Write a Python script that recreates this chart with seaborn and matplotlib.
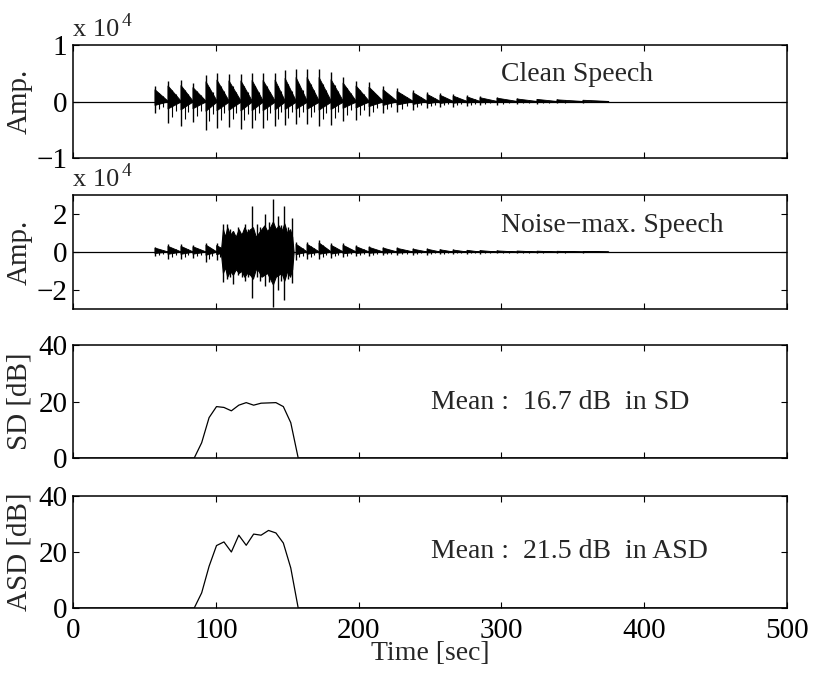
import numpy as np
import pandas as pd
import matplotlib
matplotlib.use("Agg")
import matplotlib.pyplot as plt
import seaborn as sns

# ---------------- data ----------------
# Clean speech: pitch pulses (time, positive peak, negative peak), amplitude in 1e4
clean_t = [57.4, 66.5, 75.6, 84.0, 93.1, 100.8, 109.2, 117.6, 125.4, 133.1, 141.5,
           148.5, 156.2, 163.9, 172.3, 180.7, 189.1, 198.2, 207.3, 217.1, 226.9,
           238.1, 248.0, 257.0, 266.2, 275.9, 285.0, 296.9, 310.9, 324.9, 338.9, 357.1]
clean_up = [0.28, 0.37, 0.38, 0.33, 0.47, 0.51, 0.49, 0.49, 0.50, 0.50, 0.51,
            0.55, 0.57, 0.57, 0.57, 0.52, 0.44, 0.37, 0.34, 0.28, 0.24,
            0.21, 0.17, 0.15, 0.13, 0.11, 0.09, 0.08, 0.06, 0.05, 0.04, 0.03]
clean_lo = [-0.20, -0.38, -0.43, -0.37, -0.50, -0.47, -0.45, -0.48, -0.47, -0.47, -0.43,
            -0.41, -0.40, -0.40, -0.44, -0.41, -0.35, -0.33, -0.26, -0.20, -0.18,
            -0.15, -0.12, -0.10, -0.09, -0.08, -0.07, -0.06, -0.05, -0.04, -0.03, -0.02]

# Noise-max speech: voiced pulses outside the noise burst
noisy_t = [57.4, 66.5, 75.6, 84.0, 93.1, 100.6,
           156.2, 163.9, 172.3, 180.7, 189.1, 198.2, 207.3, 217.1, 226.9, 238.1,
           248.0, 257.0, 266.2, 275.9, 285.0, 296.9, 310.9, 324.9, 338.9, 357.1]
noisy_up = [0.28, 0.40, 0.40, 0.37, 0.49, 0.46,
            0.55, 0.55, 0.64, 0.48, 0.48, 0.38, 0.33, 0.28, 0.26, 0.20,
            0.20, 0.16, 0.14, 0.12, 0.10, 0.08, 0.07, 0.06, 0.05, 0.04]
noisy_lo = [-0.23, -0.35, -0.35, -0.33, -0.50, -0.40,
            -0.41, -0.35, -0.35, -0.32, -0.28, -0.23, -0.20, -0.18, -0.18, -0.15,
            -0.15, -0.12, -0.10, -0.09, -0.08, -0.07, -0.06, -0.05, -0.04, -0.03]

# Noise burst: large spikes
burst_t = [104.8, 107.6, 110.0, 112.3, 115.3, 118.0, 120.4, 122.5, 125.1, 128.6,
           131.0, 134.5, 137.0, 139.8, 143.3, 145.5, 148.0, 150.5, 153.1]
burst_up = [1.5, 1.5, 1.2, 1.1, 1.3, 1.0, 1.5, 1.2, 2.4, 1.5,
            1.3, 2.0, 1.6, 2.8, 1.9, 1.4, 2.4, 1.3, 1.8]
burst_lo = [-1.56, -1.4, -1.3, -1.7, -1.2, -1.3, -1.5, -1.3, -2.44, -1.3,
            -1.5, -1.8, -1.6, -2.9, -2.0, -1.5, -2.5, -1.4, -1.65]
# Noise burst: dense body envelope
env_t = [103.5, 105, 106.5, 108, 110, 112, 114, 116, 118, 120, 122, 124, 126, 128,
         130, 132, 134, 136, 138, 140, 142, 144, 146, 148, 150, 152, 153.5, 154.5]
env_up = [0, 1.2, 0.8, 1.3, 0.9, 1.1, 0.8, 1.2, 0.9, 1.3, 1.0, 1.2, 1.3, 0.8,
          1.0, 1.2, 1.4, 1.1, 1.3, 1.6, 1.2, 1.4, 1.1, 1.5, 1.0, 1.2, 0.8, 0]
env_lo = [0, -1.1, -0.8, -1.3, -1.0, -1.2, -0.9, -1.1, -1.0, -1.3, -1.1, -1.2, -1.4, -0.9,
          -1.0, -1.3, -1.2, -1.1, -1.4, -1.7, -1.3, -1.2, -1.1, -1.5, -1.0, -1.3, -0.9, 0]

# Spectral distortion curves
sd_t = [0, 84.9, 90.1, 95.3, 100.5, 105.7, 110.9, 116.1, 121.3, 126.5, 131.7,
        136.9, 142.1, 147.3, 152.5, 157.7, 500]
sd_val = [0, 0, 5.4, 14.3, 18.2, 17.9, 16.7, 18.7, 19.6, 18.7, 19.4,
          19.5, 19.6, 18.2, 12.5, 0, 0]
asd_t = sd_t
asd_val = [0, 0, 5.4, 14.9, 22.3, 23.6, 20.0, 26.0, 22.4, 26.4, 26.0,
           27.7, 26.8, 23.2, 14.3, 0, 0]

x_ticks = [0, 100, 200, 300, 400, 500]

# ---------------- style ----------------
sns.set_style("ticks")
plt.rcParams['font.family'] = ['Liberation Serif', 'DejaVu Serif']
plt.rcParams['axes.unicode_minus'] = True

FS = 21
fig = plt.figure(figsize=(8.14, 6.75), dpi=100)
W, H = 814, 675
def add_ax(top, bottom):
    return fig.add_axes([73 / W, 1 - bottom / H, 714 / W, (bottom - top) / H])

ax1 = add_ax(45, 158)
ax2 = add_ax(195, 309)
ax3 = add_ax(345, 458)
ax4 = add_ax(496, 608)


def draw_pulses(ax, t, up, lo):
    n = len(t)
    for i in range(n):
        tn = t[i + 1] if i + 1 < n and t[i + 1] - t[i] < 25 else t[i] + (t[i] - t[i - 1])
        tn = min(tn, t[i] + 20)
        poly_x = [t[i], t[i], tn, tn, t[i]]
        poly_y = [0.35 * lo[i], 0.75 * up[i], 0.03 * up[i], -0.03 * up[i], 0.35 * lo[i]]
        ax.fill(poly_x, poly_y, color='k', lw=0.6)
        ax.vlines(t[i], lo[i], up[i], color='k', lw=1.0)
        ts = t[i] + 0.3 * (tn - t[i])
        ax.vlines(ts, 0.7 * lo[i], 0.55 * up[i], color='k', lw=0.8)
        ts2 = t[i] + 0.6 * (tn - t[i])
        ax.vlines(ts2, 0.45 * lo[i], 0.35 * up[i], color='k', lw=0.8)


# --- Clean speech ---
sns.lineplot(x=[0, 500], y=[0, 0], ax=ax1, color='k', lw=0.9)
draw_pulses(ax1, clean_t, clean_up, clean_lo)
ax1.set_ylim(-1, 1)
ax1.set_yticks([-1, 0, 1])
ax1.text(300, 0.47, 'Clean Speech', fontsize=FS - 1, va='center', ha='left')
ax1.set_ylabel('Amp.')

# --- Noise-max speech ---
sns.lineplot(x=[0, 500], y=[0, 0], ax=ax2, color='k', lw=0.9)
draw_pulses(ax2, noisy_t, noisy_up, noisy_lo)
ax2.fill_between(env_t, env_lo, env_up, color='k', lw=0.8)
ax2.vlines(burst_t, burst_lo, burst_up, color='k', lw=1.0)
ax2.set_ylim(-3, 3)
ax2.set_yticks([-2, 0, 2])
ax2.text(300, 1.42, 'Noise\u2212max. Speech', fontsize=FS - 1, va='center', ha='left')
ax2.set_ylabel('Amp.')

# --- SD ---
sns.lineplot(x=sd_t, y=sd_val, ax=ax3, color='k', lw=0.9)
ax3.set_ylim(0, 40)
ax3.set_yticks([0, 20, 40])
ax3.text(250.5, 19.6, 'Mean :  16.7 dB  in SD', fontsize=FS - 1, va='center', ha='left')
ax3.set_ylabel('SD [dB]')

# --- ASD ---
sns.lineplot(x=asd_t, y=asd_val, ax=ax4, color='k', lw=0.9)
ax4.set_ylim(0, 40)
ax4.set_yticks([0, 20, 40])
ax4.text(250.5, 20.1, 'Mean :  21.5 dB  in ASD', fontsize=FS - 1, va='center', ha='left')
ax4.set_ylabel('ASD [dB]')
ax4.set_xlabel('Time [sec]', fontsize=FS - 1, labelpad=-2)

for ax in (ax1, ax2, ax3, ax4):
    ax.set_xlim(0, 500)
    ax.set_xticks(x_ticks)
    ax.tick_params(direction='in', top=True, right=True, length=4.5, width=0.8,
                   labelsize=FS, pad=4, colors='k')
    ax.tick_params(axis='x', pad=7)
    for s in ax.spines.values():
        s.set_linewidth(1.1)
        s.set_color('k')
        s.set_visible(True)
    ax.yaxis.label.set_size(FS)
    ax.yaxis.set_label_coords(-0.057, 0.5)
    if ax is not ax4:
        ax.tick_params(labelbottom=False)
    ax.grid(False)

for ax in (ax1, ax2):
    ax.text(0.0, 1.035, 'x 10', transform=ax.transAxes, fontsize=FS - 2,
            ha='left', va='bottom')
    ax.text(0.068, 1.13, '4', transform=ax.transAxes, fontsize=FS - 7,
            ha='left', va='bottom')

fig.savefig('out.png', dpi=100)
